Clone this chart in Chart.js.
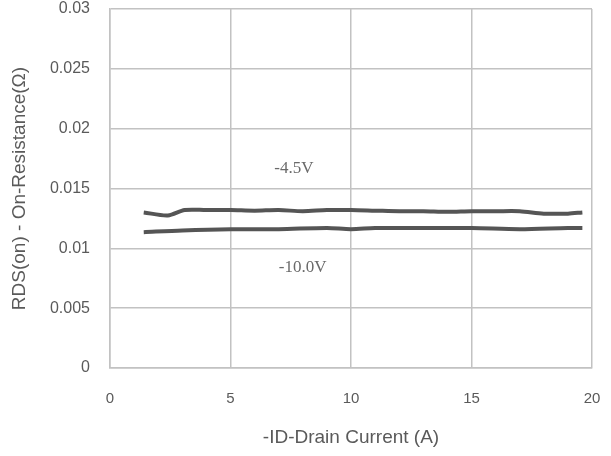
<!DOCTYPE html>
<html>
<head>
<meta charset="utf-8">
<script src="https://cdn.jsdelivr.net/npm/chart.js@4/dist/chart.umd.min.js"></script>
<style>
  html, body { margin: 0; padding: 0; background: #fff; }
  #wrap { width: 611px; height: 456px; }
</style>
</head>
<body>
<div id="wrap"><canvas id="chart" width="611" height="456"></canvas></div>
<script>
// Data
const current45 = [1.4, 2.4, 3.1, 4, 5, 6, 7, 8, 9, 10, 11, 12, 13, 14, 15, 16, 17, 18, 19, 19.6];
const rds45 = [0.0130, 0.01275, 0.0132, 0.0132, 0.0132, 0.01315, 0.0132, 0.0131, 0.0132, 0.0132,
               0.01315, 0.0131, 0.0131, 0.01305, 0.0131, 0.0131, 0.0131, 0.0129, 0.0129, 0.0130];
const current10 = [1.4, 3, 5, 7, 9, 10, 11, 13, 15, 17, 19, 19.6];
const rds10 = [0.01135, 0.0115, 0.0116, 0.0116, 0.0117, 0.0116, 0.0117, 0.0117, 0.0117, 0.0116, 0.0117, 0.0117];

const xTicks = [0, 5, 10, 15, 20];
const yTicks = [0, 0.005, 0.01, 0.015, 0.02, 0.025, 0.03];

// curve labels (text, x, y in data units)
const labelText = ['-4.5V', '-10.0V'];
const labelX = [7.63, 7.99];
const labelY = [0.0167, 0.0084];

const gridColor = '#c2c2c2';
const textColor = '#5a5a5a';

function toPoints(xs, ys) {
    return xs.map((x, i) => ({ x: x, y: ys[i] }));
}

// Draw the curve labels through the scales
const curveLabels = {
    id: 'curveLabels',
    afterDatasetsDraw(chart) {
        const ctx = chart.ctx;
        const xs = chart.scales.x;
        const ys = chart.scales.y;
        ctx.save();
        ctx.font = '17px "Liberation Serif"';
        ctx.fillStyle = '#6a6a6a';
        ctx.textAlign = 'center';
        ctx.textBaseline = 'middle';
        labelText.forEach((t, i) => {
            ctx.fillText(t, xs.getPixelForValue(labelX[i]), ys.getPixelForValue(labelY[i]));
        });
        ctx.restore();
    }
};

const ctx = document.getElementById('chart').getContext('2d');
new Chart(ctx, {
    type: 'scatter',
    data: {
        datasets: [{
            label: '-4.5V',
            data: toPoints(current45, rds45),
            showLine: true,
            borderColor: '#555555',
            borderWidth: 4,
            pointRadius: 0,
            tension: 0.3
        }, {
            label: '-10.0V',
            data: toPoints(current10, rds10),
            showLine: true,
            borderColor: '#555555',
            borderWidth: 4,
            pointRadius: 0,
            tension: 0.3
        }]
    },
    options: {
        responsive: false,
        animation: false,
        layout: { padding: 0 },
        plugins: {
            legend: { display: false },
            tooltip: { enabled: false }
        },
        scales: {
            x: {
                type: 'linear',
                min: 0,
                max: 20,
                afterBuildTicks: (axis) => { axis.ticks = xTicks.map(v => ({ value: v })); },
                afterFit: (axis) => {
                    axis.height = 88;
                    axis.paddingLeft = 0;
                    axis.paddingRight = 19;
                },
                grid: { color: gridColor, lineWidth: 1.5, drawTicks: false },
                border: { color: gridColor, width: 1.5 },
                ticks: {
                    padding: 22,
                    color: textColor,
                    font: { family: 'Liberation Sans', size: 15 }
                },
                title: {
                    display: true,
                    text: '-ID-Drain Current (A)',
                    color: textColor,
                    font: { family: 'Liberation Sans', size: 19 },
                    padding: { top: 4, bottom: 7 }
                }
            },
            y: {
                min: 0,
                max: 0.03,
                afterBuildTicks: (axis) => { axis.ticks = yTicks.map(v => ({ value: v })); },
                afterFit: (axis) => {
                    axis.width = 110;
                    axis.paddingTop = 9;
                    axis.paddingBottom = 0;
                },
                grid: { color: gridColor, lineWidth: 1.5, drawTicks: false },
                border: { color: gridColor, width: 1.5 },
                ticks: {
                    padding: 20,
                    color: textColor,
                    font: { family: 'Liberation Sans', size: 16 },
                    callback: (v) => String(Number(v.toFixed(3)))
                },
                title: {
                    display: true,
                    text: 'RDS(on) - On-Resistance(Ω)',
                    color: textColor,
                    font: { family: 'Liberation Sans', size: 19 },
                    padding: { top: 8, bottom: 4 }
                }
            }
        }
    },
    plugins: [curveLabels]
});
</script>
</body>
</html>
